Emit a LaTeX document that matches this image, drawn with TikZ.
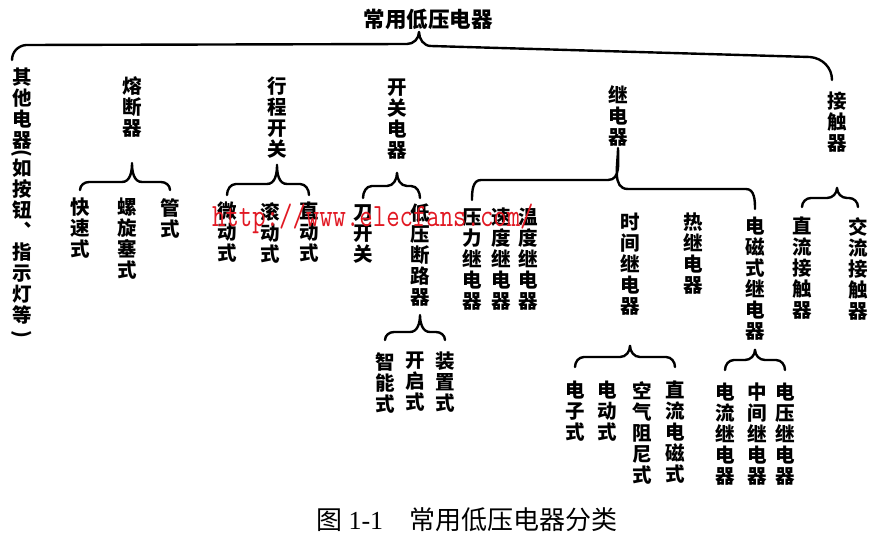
\documentclass[tikz,border=0pt]{standalone}
\usepackage{fontspec}
\newfontfamily\cjk{Noto Sans CJK SC}
\newfontfamily\capserif{Liberation Serif}
\usetikzlibrary{calc}
\definecolor{wmred}{RGB}{225,25,35}

\tikzset{
	vt/.style={font=\cjk\bfseries\fontsize{19.5}{21}\selectfont,align=center,
		inner sep=0pt,anchor=north},
	brace/.style={line width=2.4pt,line cap=round,line join=round},
}
% curly bracket from a parent down to its first and last child
\newcommand\fork[6]{%
	\coordinate (tp) at ([yshift=-#2]#1.south);
	\coordinate (lf) at ([yshift=#5]#3.north);
	\coordinate (rt) at ([yshift=#5]#4.north);
	\draw[brace] (lf) to[out=90,in=180] ($(lf)+(9pt,#6)$)
		-- ($(tp|-lf)+(-10pt,#6)$) to[out=0,in=-90] (tp)
		to[out=-90,in=180] ($(tp|-rt)+(10pt,#6)$)
		-- ($(rt)+(-9pt,#6)$) to[out=0,in=90] (rt);}

\begin{document}
\begin{tikzpicture}[x=1pt,y=-1pt]
	\useasboundingbox (0,0) rectangle (885,546);
	\node[font=\cjk\bfseries\fontsize{21.5}{22}\selectfont,inner sep=0pt,
		anchor=south] (title) at (428,30) {常用低压电器};
	
	\node[vt] (other) at (22,68) {其\\他\\电\\器\\[-19pt]\rotatebox{-90}{(}\\如\\按\\钮\\︑\\指\\示\\灯\\等\\[-13pt]\rotatebox{-90}{)}};
	\node[vt] (fuse) at (132,76) {熔\\断\\器};
	\node[vt] (travel) at (277,77) {行\\程\\开\\关};
	\node[vt] (switch) at (397,79) {开\\关\\电\\器};
	\node[vt] (relay) at (618,85) {继\\电\\器};
	\node[vt] (contact) at (837,92) {接\\触\\器};
	
	\node[vt] (fast) at (80,198) {快\\速\\式};
	\node[vt] (screw) at (127,198) {螺\\旋\\塞\\式};
	\node[vt] (tube) at (170,198) {管\\式};
	
	\node[vt] (micro) at (227,202) {微\\动\\式};
	\node[vt] (roller) at (270,202) {滚\\动\\式};
	\node[vt] (direct) at (309,202) {直\\动\\式};
	
	\node[vt] (knife) at (363,204) {刀\\开\\关};
	\node[vt] (breaker) at (420,204) {低\\压\\断\\路\\器};
	\node[vt] (smart) at (385,352) {智\\能\\式};
	\node[vt] (open) at (415,352) {开\\启\\式};
	\node[vt] (frame) at (445,352) {装\\置\\式};
	
	\node[vt] (press) at (472,208) {压\\力\\继\\电\\器};
	\node[vt] (speed) at (501,208) {速\\度\\继\\电\\器};
	\node[vt] (temp) at (528,208) {温\\度\\继\\电\\器};
	\node[vt] (time) at (630,213) {时\\间\\继\\电\\器};
	\node[vt] (heat) at (693,213) {热\\继\\电\\器};
	\node[vt] (emag) at (755,217) {电\\磁\\式\\继\\电\\器};
	
	\node[vt] (elec) at (575,381) {电\\子\\式};
	\node[vt] (motor) at (607,381) {电\\动\\式};
	\node[vt] (air) at (642,381) {空\\气\\阻\\尼\\式};
	\node[vt] (dcm) at (675,381) {直\\流\\电\\磁\\式};
	
	\node[vt] (cur) at (725,383) {电\\流\\继\\电\\器};
	\node[vt] (mid) at (757,383) {中\\间\\继\\电\\器};
	\node[vt] (volt) at (785,383) {电\\压\\继\\电\\器};
	
	\node[vt] (dc) at (802,217) {直\\流\\接\\触\\器};
	\node[vt] (ac) at (858,217) {交\\流\\接\\触\\器};
	
	% top bracket
	\coordinate (mt) at ([xshift=-9pt,yshift=-2pt]title.south);
	\draw[brace] ([shift={(-10pt,8pt)}]other.north) to[out=90,in=185] ++(14pt,15pt)
		-- ($(mt)+(-12pt,-12pt)$) to[out=0,in=-90] (mt)
		to[out=-90,in=180] ($(mt)+(12pt,-14pt)$)
		-- ([shift={(-27pt,35pt)}]contact.north)
		to[out=-5,in=90] ([shift={(-5pt,12pt)}]contact.north);
	
	\fork{fuse}{26pt}{fast}{tube}{8pt}{8pt}
	\fork{travel}{6pt}{micro}{direct}{7pt}{11pt}
	\fork{switch}{13pt}{knife}{breaker}{6pt}{12pt}
	\fork{breaker}{8pt}{smart}{frame}{12pt}{8pt}
	\fork{relay}{2pt}{press}{emag}{8pt}{20pt}
	\fork{contact}{35pt}{dc}{ac}{10pt}{9pt}
	\fork{time}{30pt}{elec}{dcm}{14pt}{10pt}
	\fork{emag}{9pt}{cur}{volt}{13pt}{10pt}
	
	\node[font=\cjk\fontsize{26}{26}\selectfont,inner sep=0pt] (caption) at (467,520)
		{图 {\capserif 1-1}\quad 常用低压电器分类};
	\node[font=\ttfamily\fontsize{26}{26}\selectfont,text=wmred,anchor=base west,
		inner sep=0pt,yscale=1.25,transform shape] (mark) at (212,226) {http://www.elecfans.com/};
\end{tikzpicture}
\end{document}
